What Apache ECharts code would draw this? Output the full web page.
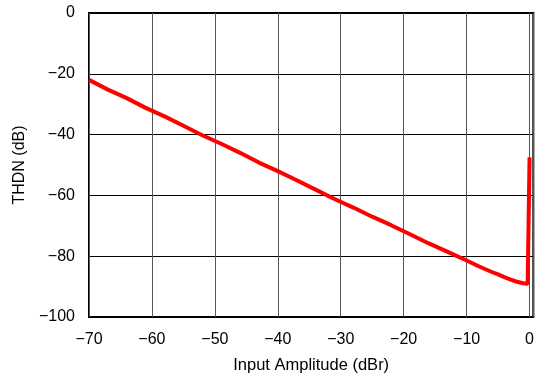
<!DOCTYPE html>
<html>
<head>
<meta charset="utf-8">
<script src="https://cdn.jsdelivr.net/npm/echarts@6/dist/echarts.min.js"></script>
<style>
  html, body { margin: 0; padding: 0; background: #fff; }
  #chart { width: 537px; height: 379px; }
</style>
</head>
<body>
<div id="chart"></div>
<script>
// input amplitude (dBr) and THDN (dB)
var amplitude = [-70, -67, -64, -61, -58, -55, -52, -49, -46, -43, -40, -37, -34, -31, -28, -25, -22, -19, -16, -13, -10, -8, -6, -5, -4, -3, -2, -1, -0.3, 0, 0];
var thdn = [-22, -25.2, -28, -31.2, -34, -37.1, -40.2, -43, -46, -49.2, -52, -55, -58.1, -61.2, -64, -67, -69.8, -72.8, -75.8, -78.6, -81.4, -83.4, -85.2, -86, -86.9, -87.7, -88.4, -88.9, -89.1, -89.1, -47.5];

var xTicks = [-70, -60, -50, -40, -30, -20, -10, 0];

var chart = echarts.init(document.getElementById('chart'));

var pts = [];
for (var i = 0; i < amplitude.length; i++) {
  pts.push([amplitude[i], thdn[i]]);
}

function minus(v) {
  return String(v).replace('-', '\u2212');
}

var option = {
  animation: false,
  textStyle: { fontFamily: 'Liberation Sans, Arial, sans-serif' },
  grid: {
    left: 89, top: 13, right: 2, bottom: 61,
    show: true, borderColor: '#000', borderWidth: 2
  },
  xAxis: {
    type: 'value',
    min: -70,
    max: 0.6,
    interval: 10,
    name: 'Input Amplitude (dBr)',
    nameLocation: 'middle',
    nameGap: 40,
    nameTextStyle: { color: '#000', fontSize: 16.5 },
    axisLine: { show: false },
    axisTick: { show: false },
    axisLabel: {
      color: '#000', fontSize: 16, margin: 15,
      showMaxLabel: false,
      formatter: function (v) {
        return xTicks.indexOf(v) >= 0 ? minus(v) : '';
      }
    },
    splitLine: { show: true, lineStyle: { color: '#555', width: 1 } }
  },
  yAxis: {
    type: 'value',
    min: -100,
    max: 0,
    interval: 20,
    name: 'THDN (dB)',
    nameLocation: 'middle',
    nameGap: 56,
    nameTextStyle: { color: '#000', fontSize: 16 },
    axisLine: { show: false },
    axisTick: { show: false },
    axisLabel: {
      color: '#000', fontSize: 16, margin: 14,
      formatter: function (v) { return minus(v); }
    },
    splitLine: { show: true, lineStyle: { color: '#000', width: 1 } }
  },
  series: [{
    type: 'line',
    data: pts,
    symbol: 'none',
    lineStyle: { color: '#ff0000', width: 4 },
    z: 5
  }]
};

chart.setOption(option);
</script>
</body>
</html>
